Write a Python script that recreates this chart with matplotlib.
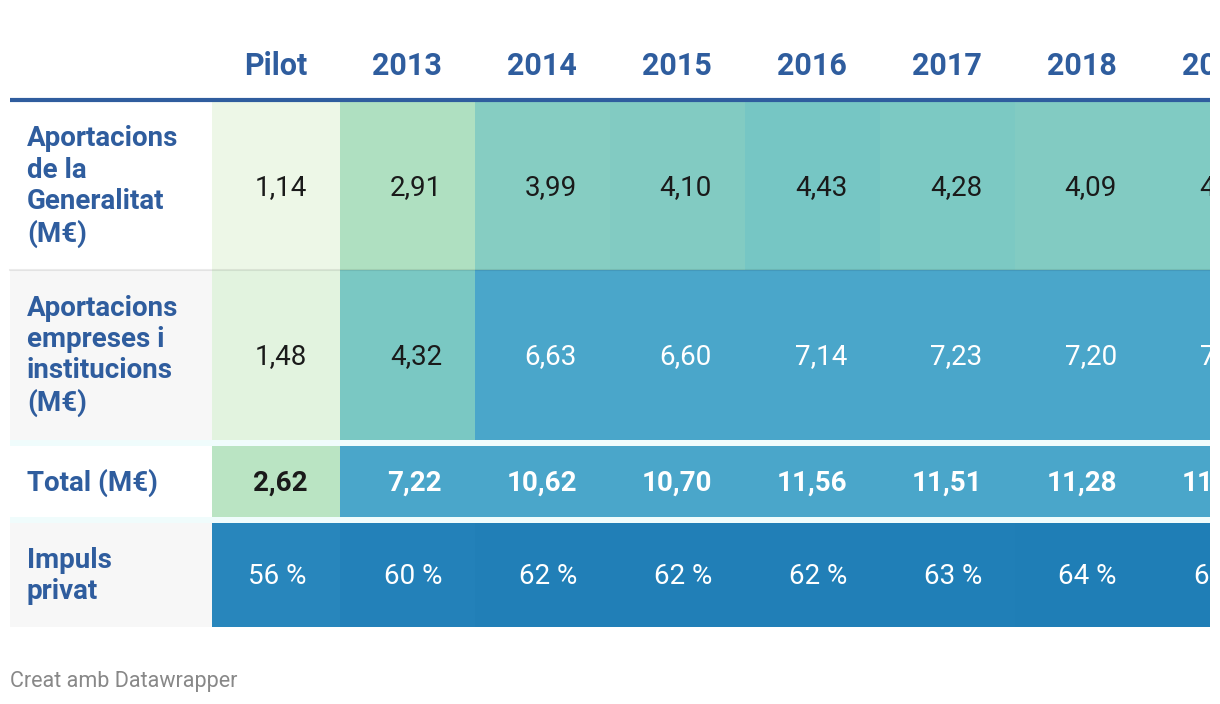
import numpy as np
import matplotlib.pyplot as plt
from matplotlib.patches import Rectangle
from matplotlib.colors import LinearSegmentedColormap, Normalize

# dades de la taula
columnes = ["Pilot", "2013", "2014", "2015", "2016", "2017", "2018", "2019"]
files = ["Aportacions\nde la\nGeneralitat\n(M€)",
         "Aportacions\nempreses i\ninstitucions\n(M€)",
         "Total (M€)",
         "Impuls\nprivat"]
generalitat = [1.14, 2.91, 3.99, 4.10, 4.43, 4.28, 4.09, 4.15]
empreses = [1.48, 4.32, 6.63, 6.60, 7.14, 7.23, 7.20, 7.25]
total = [2.62, 7.22, 10.62, 10.70, 11.56, 11.51, 11.28, 11.40]
impuls = [56, 60, 62, 62, 62, 63, 64, 64]

plt.rcParams['font.family'] = ['Roboto', 'DejaVu Sans']

blau = "#2f5d9e"
escala = LinearSegmentedColormap.from_list("escala", [
    (0.0, "#f2f9ea"), (0.34, "#b7e3c1"), (0.6, "#86cdc2"),
    (0.69, "#75c6c4"), (0.9, "#4aa6ca"), (1.0, "#4aa6ca")])
norm = Normalize(1.0, 6.0, clip=True)
escala_pct = LinearSegmentedColormap.from_list("pct", ["#2886bc", "#2381b9", "#1f7eb6"])
norm_pct = Normalize(56, 64, clip=True)

fig = plt.figure(figsize=(12.2, 7.04), dpi=100)
ax = fig.add_axes([0, 0, 1210 / 1220, 1])
ax.set_xlim(0, 1210)
ax.set_ylim(704, 0)
ax.axis("off")

# geometria
esq_etiqueta = 10
amples = [128] + [135] * 7
esquerres = [212]
for a in amples[:-1]:
    esquerres.append(esquerres[-1] + a)
limits_files = [(101, 270), (270, 440), (446, 517), (523, 627)]
fons_etiqueta = ["white", "#f7f7f7", "white", "#f7f7f7"]

# separadors clars
for y0, y1 in [(440, 446), (517, 523)]:
    ax.add_patch(Rectangle((esq_etiqueta, y0), 1210, y1 - y0, color="#f0fcfc", lw=0))

valors_files = [generalitat, empreses, total, impuls]
for r, (valors, (y0, y1)) in enumerate(zip(valors_files, limits_files)):
    ax.add_patch(Rectangle((esq_etiqueta, y0), 212 - esq_etiqueta, y1 - y0,
                           color=fons_etiqueta[r], lw=0))
    ax.text(27, (y0 + y1) / 2 + 1, files[r], ha="left", va="center", color=blau,
            fontsize=20, fontweight="bold", linespacing=1.21)
    for c, v in enumerate(valors):
        x0 = esquerres[c]
        if r == 3:
            color = escala_pct(norm_pct(v))
            txt = f"{v} %"
            tcol = "white"
        else:
            color = escala(norm(v))
            txt = f"{v:.2f}".replace(".", ",")
            tcol = "white" if v > 5 else "#1a1a1a"
        ax.add_patch(Rectangle((x0, y0), amples[c], y1 - y0, color=color, lw=0))
        ax.text(x0 + amples[c] - 33, (y0 + y1) / 2 + 2, txt, ha="right", va="center",
                color=tcol, fontsize=20, fontweight="bold" if r == 2 else "normal",
                clip_on=True)

# línia entre files 1 i 2
ax.plot([esq_etiqueta, 1210], [270, 270], color="black", alpha=0.08, lw=1.5)

# capçalera
for c, nom in enumerate(columnes):
    ax.text(esquerres[c] + amples[c] - 33, 66, nom, ha="right", va="center",
            color=blau, fontsize=22, fontweight="bold", clip_on=True)
ax.plot([esq_etiqueta, 1210], [100, 100], color=blau, lw=3, solid_capstyle="butt")

ax.text(10, 681, "Creat amb Datawrapper", ha="left", va="center",
        color="#888888", fontsize=15.5)

fig.savefig("out.png", dpi=100)
